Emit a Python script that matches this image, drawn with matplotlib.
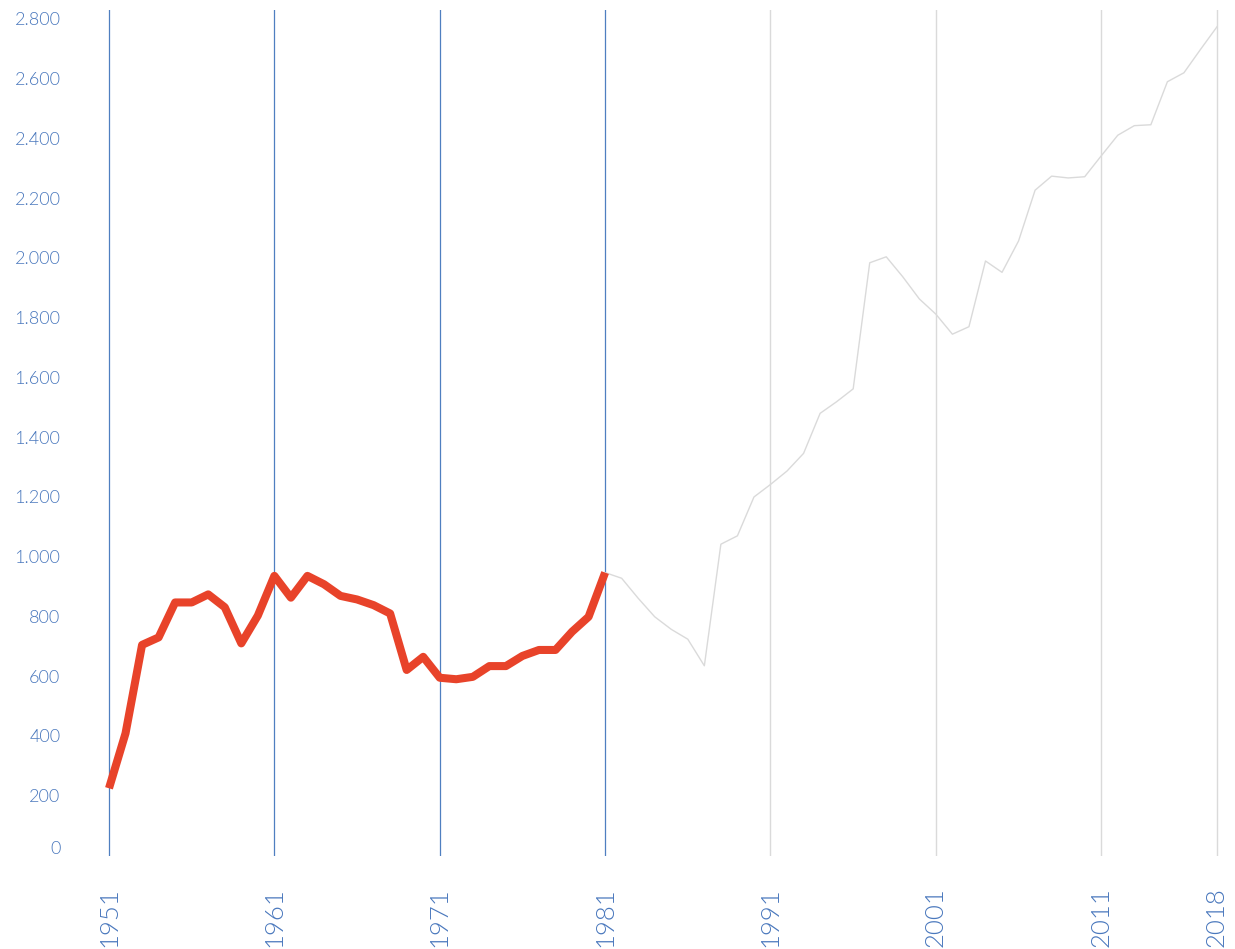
import matplotlib
matplotlib.use("Agg")
import matplotlib.pyplot as plt
from matplotlib.ticker import FixedLocator, FuncFormatter

# ---- data ----
years_red = list(range(1951, 1982))
values_red = [225, 409, 705, 730, 847, 847, 874, 831, 710, 803,
              936, 863, 936, 908, 869, 857, 838, 810, 621, 665,
              595, 590, 598, 634, 634, 668, 688, 688, 749, 799,
              947]
years_gray = list(range(1981, 2019))
values_gray = [947, 928, 861, 799, 757, 724, 635, 1042, 1070, 1200,
               1242, 1287, 1346, 1480, 1519, 1562, 1984, 2004, 1937, 1863,
               1812, 1745, 1770, 1990, 1952, 2057, 2227, 2274, 2268, 2272,
               2342, 2411, 2443, 2446, 2590, 2620, 2698, 2774]
x_ticks = [1951, 1961, 1971, 1981, 1991, 2001, 2011, 2018]
y_ticks = [0, 200, 400, 600, 800, 1000, 1200, 1400, 1600, 1800,
           2000, 2200, 2400, 2600, 2800]

TEXT_BLUE = "#4a78bd"
GRID_BLUE = "#4f7fc0"
GRID_GRAY = "#dadada"
RED = "#e8432a"
WEIGHT = 300

plt.rcParams['font.family'] = ['Lato', 'DejaVu Sans']

W, H = 1235, 949
fig = plt.figure(figsize=(W / 100, H / 100), dpi=100)
ax = fig.add_axes([100 / W, (H - 855.5) / H, 1126 / W, (855.5 - 10) / H])

ax.plot(years_gray, values_gray, color=GRID_GRAY, lw=1.0, zorder=3)
ax.plot(years_red, values_red, color=RED, lw=5.8, zorder=4,
        solid_capstyle='butt', solid_joinstyle='round')

ax.set_xlim(1951 - 9 / 16.55, 2018 + 9 / 16.55)
ax.set_ylim(0, 2800 + 9 * 3.347)

ax.xaxis.set_major_locator(FixedLocator(x_ticks))
ax.yaxis.set_major_locator(FixedLocator(y_ticks))
ax.yaxis.set_major_formatter(FuncFormatter(
    lambda v, p: "" if v == 0 else f"{int(v):,}".replace(",", ".")))

ax.grid(axis='x', which='major')
for yr, gl in zip(x_ticks, ax.get_xgridlines()):
    if yr <= 1981:
        gl.set_color(GRID_BLUE)
        gl.set_linewidth(0.9)
    else:
        gl.set_color(GRID_GRAY)
        gl.set_linewidth(1.0)
    gl.set_zorder(1)
ax.set_axisbelow(True)

ax.tick_params(axis='both', length=0)
ax.tick_params(axis='y', pad=28.5, labelsize=13, labelcolor=TEXT_BLUE)
ax.tick_params(axis='x', pad=23, labelsize=18.5, labelcolor=TEXT_BLUE,
               labelrotation=90)
for lab in ax.get_yticklabels() + ax.get_xticklabels():
    lab.set_fontweight(WEIGHT)
for lab in ax.get_xticklabels():
    lab.set_verticalalignment('top')

# "0" label sits a little higher than its tick
ax.annotate("0", xy=(0, 0), xycoords=('axes fraction', 'data'),
            xytext=(-28.5 * 100 / 72, 7), textcoords='offset pixels',
            ha='right', va='center', fontsize=13, color=TEXT_BLUE,
            fontweight=WEIGHT, annotation_clip=False)

for s in ax.spines.values():
    s.set_visible(False)

fig.savefig("out.png", dpi=100, facecolor="white")
